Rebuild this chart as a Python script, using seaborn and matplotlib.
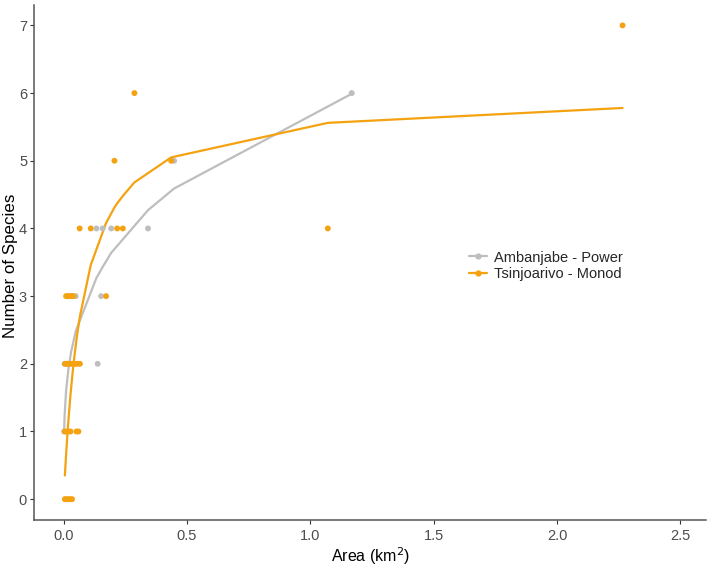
import pandas as pd
import matplotlib
matplotlib.use('Agg')
import matplotlib.pyplot as plt
from matplotlib.lines import Line2D
import seaborn as sns

# Observed points (Area in km2, number of species)
amb_area = [0.002, 0.004, 0.010, 0.019, 0.138, 0.030, 0.049, 0.152, 0.133, 0.158, 0.193, 0.342, 0.448, 1.168]
amb_species = [1, 2, 2, 2, 2, 3, 3, 3, 4, 4, 4, 4, 5, 6]

tsi_area = [0.005, 0.012, 0.020, 0.028, 0.034,
            0.005, 0.012, 0.020, 0.028, 0.052, 0.060,
            0.006, 0.015, 0.025, 0.035, 0.045, 0.055, 0.066,
            0.010, 0.018, 0.026, 0.034, 0.039, 0.172,
            0.065, 0.110, 0.217, 0.240, 1.071,
            0.206, 0.436,
            0.287,
            2.266]
tsi_species = [0, 0, 0, 0, 0,
               1, 1, 1, 1, 1, 1,
               2, 2, 2, 2, 2, 2, 2,
               3, 3, 3, 3, 3, 3,
               4, 4, 4, 4, 4,
               5, 5,
               6,
               7]

# Fitted curves
amb_fit_x = [0.002, 0.004, 0.010, 0.019, 0.030, 0.049, 0.133, 0.138, 0.152, 0.158, 0.193, 0.342, 0.448, 1.168]
amb_fit_y = [1.02, 1.24, 1.60, 1.91, 2.17, 2.48, 3.27, 3.30, 3.39, 3.43, 3.64, 4.27, 4.59, 5.99]

tsi_fit_x = [0.005, 0.010, 0.015, 0.018, 0.025, 0.028, 0.034, 0.039, 0.045, 0.055,
             0.066, 0.110, 0.172, 0.206, 0.217, 0.240, 0.287, 0.436, 1.071, 2.266]
tsi_fit_y = [0.35, 0.66, 0.94, 1.10, 1.42, 1.55, 1.78, 1.96, 2.15, 2.44,
             2.70, 3.46, 4.08, 4.31, 4.37, 4.48, 4.68, 5.05, 5.56, 5.78]

labels = ['Ambanjabe - Power', 'Tsinjoarivo - Monod']
cores = {labels[0]: '#BEBEBE', labels[1]: '#F4A210'}

pontos = pd.DataFrame({
    'area': amb_area + tsi_area,
    'especies': amb_species + tsi_species,
    'modelo': [labels[0]] * len(amb_area) + [labels[1]] * len(tsi_area),
})
ajuste = pd.DataFrame({
    'area': amb_fit_x + tsi_fit_x,
    'especies': amb_fit_y + tsi_fit_y,
    'modelo': [labels[0]] * len(amb_fit_x) + [labels[1]] * len(tsi_fit_x),
})

sns.set_style('ticks')
plt.rcParams['font.family'] = ['Liberation Sans', 'DejaVu Sans']

fig = plt.figure(figsize=(7.09, 5.66), dpi=100)
ax = fig.add_axes([0.048, 0.081, 0.948, 0.91])

sns.scatterplot(data=pontos, x='area', y='especies', hue='modelo', palette=cores,
                s=18, linewidth=0, legend=False, ax=ax, zorder=3)
sns.lineplot(data=ajuste, x='area', y='especies', hue='modelo', palette=cores,
             estimator=None, sort=True, linewidth=1.6, legend=False, ax=ax, zorder=2)

ax.set_xlim(-0.12, 2.605)
ax.set_ylim(-0.31, 7.3)
ax.set_xticks([0.0, 0.5, 1.0, 1.5, 2.0, 2.5])
ax.set_xticklabels(['0.0', '0.5', '1.0', '1.5', '2.0', '2.5'])
ax.set_yticks(range(0, 8))

for lado in ['top', 'right']:
    ax.spines[lado].set_visible(False)
for lado in ['left', 'bottom']:
    ax.spines[lado].set_color('#555555')
    ax.spines[lado].set_linewidth(1.1)
ax.tick_params(colors='#333333', labelcolor='#4D4D4D', labelsize=10.5, length=3, width=0.8)
ax.tick_params(axis='y', pad=2)

ax.set_xlabel('Area (km$^2$)', fontsize=11.5, color='black')
ax.set_ylabel('Number of Species', fontsize=12.2, color='black')
# posiciona os rótulos dos eixos (coordenadas da figura)
ax.xaxis.set_label_coords(0.523, 0.037, transform=fig.transFigure)
ax.yaxis.set_label_coords(0.025, 0.531, transform=fig.transFigure)

handles = [Line2D([0], [0], color=cores[l], marker='o', markersize=3.5, linewidth=1.6) for l in labels]
ax.legend(handles, labels, loc='center left', bbox_to_anchor=(0.643, 0.53),
          bbox_transform=fig.transFigure, frameon=False, fontsize=10.5,
          handlelength=1.2, handletextpad=0.5, labelspacing=0.2)

plt.savefig('out.png', dpi=100)
plt.close()
